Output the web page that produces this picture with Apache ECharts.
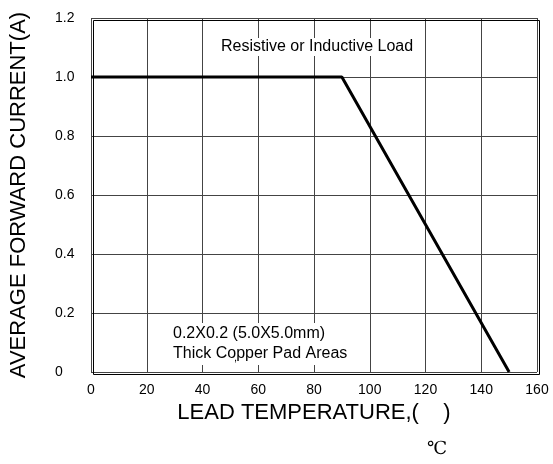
<!DOCTYPE html>
<html>
<head>
<meta charset="utf-8">
<script src="https://cdn.jsdelivr.net/npm/echarts@6/dist/echarts.min.js"></script>
<style>
  html, body { margin: 0; padding: 0; background: #fff; }
  #chart { width: 553px; height: 464px; }
</style>
</head>
<body>
<div id="chart"></div>
<script>
// derating curve points
var temps = [0, 90, 150];
var current = [1.0, 1.0, 0];
var xTicks = [0, 20, 40, 60, 80, 100, 120, 140, 160];
var yTicks = [0, 0.2, 0.4, 0.6, 0.8, 1.0, 1.2];

var font = 'Liberation Sans, Arial, sans-serif';

var myChart = echarts.init(document.getElementById('chart'));
var option = {
  animation: false,
  grid: { left: 91, right: 16, top: 18, bottom: 92, outerBoundsMode: 'none', containLabel: false },
  xAxis: {
    type: 'value',
    min: xTicks[0], max: xTicks[xTicks.length - 1], interval: 20,
    name: 'LEAD TEMPERATURE,(    )',
    nameLocation: 'middle',
    nameGap: 28,
    nameTextStyle: { color: '#000', fontSize: 22, fontFamily: font },
    axisLine: { show: false },
    axisTick: { show: false },
    axisLabel: { color: '#000', fontSize: 14, fontFamily: font, margin: 11 },
    splitLine: { lineStyle: { color: '#444', width: 1 } }
  },
  yAxis: {
    type: 'value',
    min: yTicks[0], max: yTicks[yTicks.length - 1], interval: 0.2,
    name: 'AVERAGE FORWARD CURRENT(A)',
    nameLocation: 'middle',
    nameGap: 61,
    nameTextStyle: { color: '#000', fontSize: 22, fontFamily: font },
    axisLine: { show: false },
    axisTick: { show: false },
    axisLabel: {
      color: '#000', fontSize: 14, fontFamily: font, margin: 36, align: 'left',
      padding: [8, 0, 0, 0],
      formatter: function (v) { return v === 0 ? '0' : v.toFixed(1); }
    },
    splitLine: { lineStyle: { color: '#444', width: 1 } }
  },
  graphic: [
    {
      type: 'rect', left: 91, top: 18, z: 10,
      shape: { width: 446, height: 354 },
      style: { fill: 'none', stroke: '#000', lineWidth: 1 }
    },
    {
      type: 'text', left: 219, top: 38, z: 20,
      style: { text: 'Resistive or Inductive Load', fill: '#000', font: '16px ' + font,
               backgroundColor: '#fff', padding: [1, 2] }
    },
    {
      type: 'text', left: 171, top: 323, z: 20,
      style: { text: '0.2X0.2 (5.0X5.0mm)\nThick Copper Pad Areas', fill: '#000',
               font: '16px ' + font, lineHeight: 20, backgroundColor: '#fff', padding: [1, 2] }
    },
    {
      type: 'text', left: 234, top: 352, z: 21,
      style: { text: ',', fill: '#000', font: '11px ' + font }
    },
    {
      type: 'text', left: 427, top: 440, z: 20,
      style: { text: '℃', fill: '#000', font: '18px DejaVu Serif, serif' }
    }
  ],
  series: [{
    type: 'line',
    data: temps.map(function (t, i) { return [t, current[i]]; }),
    symbol: 'none',
    lineStyle: { color: '#000', width: 3 },
    z: 15
  }]
};
myChart.setOption(option);
</script>
</body>
</html>
